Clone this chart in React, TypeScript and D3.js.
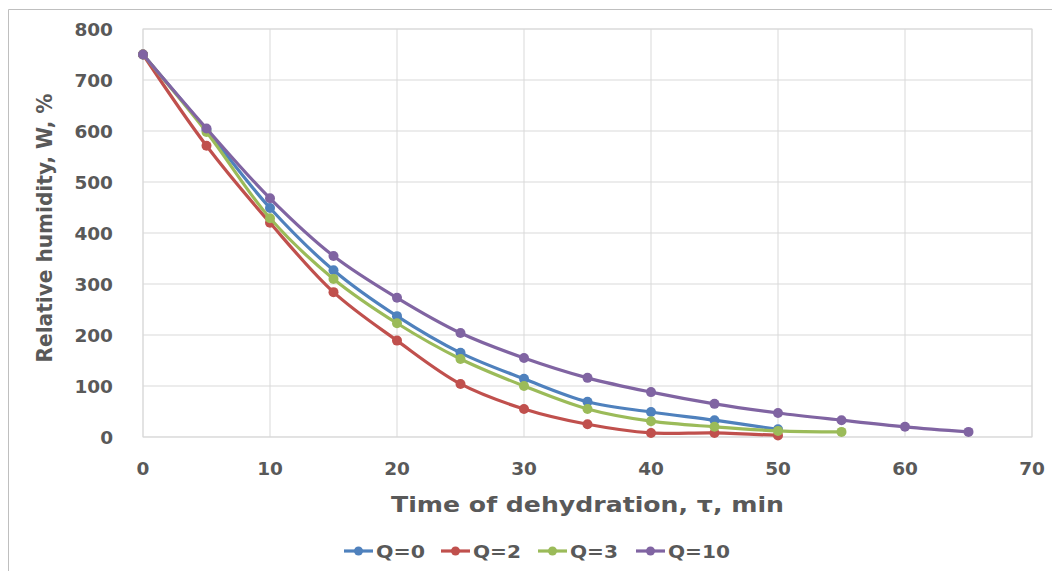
import React from "react";
import * as d3 from "d3";

const times = [0, 5, 10, 15, 20, 25, 30, 35, 40, 45, 50, 55, 60, 65];
const q0 = [750, 602, 449, 327, 237, 165, 114, 69, 49, 33, 15];
const q2 = [750, 571, 420, 284, 189, 104, 55, 25, 8, 8, 3];
const q3 = [750, 598, 429, 310, 223, 153, 100, 55, 31, 20, 12, 10];
const q10 = [750, 605, 468, 355, 273, 204, 155, 116, 88, 65, 47, 33, 20, 10];
const seriesNames = ["Q=0", "Q=2", "Q=3", "Q=10"];
const seriesColors = ["#4F81BD", "#C0504D", "#9BBB59", "#8064A2"];
const xTicks = [0, 10, 20, 30, 40, 50, 60, 70];
const yTicks = [0, 100, 200, 300, 400, 500, 600, 700, 800];

const W = 1052, H = 571;
const left = 143, right = 1032, top = 29, bottom = 437;
const FONT = "'DejaVu Sans', Verdana, sans-serif";
const GRAY = "#595959";

export default function App() {
  const x = d3.scaleLinear().domain([0, 70]).range([left, right]);
  const y = d3.scaleLinear().domain([0, 800]).range([bottom, top]);
  const all = [q0, q2, q3, q10];
  const line = d3
    .line<[number, number]>()
    .x((d) => x(d[0]))
    .y((d) => y(d[1]))
    .curve(d3.curveCatmullRom.alpha(0.5));

  const legendX = [344, 441, 538, 636];
  const legendTextLen = [49, 48, 48, 62];

  return (
    <svg width={W} height={H} style={{ position: "absolute", left: 0, top: 0, background: "#fff" }}>
      <rect x={0} y={0} width={W} height={H} fill="#fff" />
      <line x1={8.5} y1={9.5} x2={8.5} y2={H} stroke="#BFBFBF" strokeWidth={1} />
      <line x1={8.5} y1={9.5} x2={W} y2={9.5} stroke="#BFBFBF" strokeWidth={1} />
      {xTicks.map((t) => (
        <line key={"gx" + t} x1={x(t)} x2={x(t)} y1={top} y2={bottom} stroke="#D9D9D9" strokeWidth={1} />
      ))}
      {yTicks.map((t) => (
        <line key={"gy" + t} x1={left} x2={right} y1={y(t)} y2={y(t)} stroke="#D9D9D9" strokeWidth={1} />
      ))}
      <rect x={left} y={top} width={right - left} height={bottom - top} fill="none" stroke="#D9D9D9" strokeWidth={1} />
      {yTicks.map((t) => (
        <text key={"ty" + t} x={113} y={y(t)} dy="0.36em" textAnchor="end" fontFamily={FONT} fontWeight="bold" fontSize={18.5} fill={GRAY}>
          {t}
        </text>
      ))}
      {xTicks.map((t) => (
        <text key={"tx" + t} x={x(t)} y={475} textAnchor="middle" fontFamily={FONT} fontWeight="bold" fontSize={18.5} fill={GRAY}>
          {t}
        </text>
      ))}
      <text x={(left + right) / 2} y={512} textAnchor="middle" fontFamily={FONT} fontWeight="bold" fontSize={21} fill={GRAY} textLength={393} lengthAdjust="spacingAndGlyphs">
        Time of dehydration, τ, min
      </text>
      <text transform={`translate(52, 228) rotate(-90)`} textAnchor="middle" fontFamily={FONT} fontWeight="bold" fontSize={20.5} fill={GRAY} textLength={269} lengthAdjust="spacingAndGlyphs">
        Relative humidity, W, %
      </text>
      {all.map((vals, i) => {
        const pts: [number, number][] = vals.map((v, j) => [times[j], v]);
        return (
          <g key={"s" + i}>
            <path d={line(pts) || ""} fill="none" stroke={seriesColors[i]} strokeWidth={3.2} strokeLinejoin="round" />
            {pts.map((p, j) => (
              <circle key={j} cx={x(p[0])} cy={y(p[1])} r={5} fill={seriesColors[i]} />
            ))}
          </g>
        );
      })}
      {seriesNames.map((n, i) => (
        <g key={"l" + i}>
          <line x1={legendX[i]} x2={legendX[i] + 29} y1={551} y2={551} stroke={seriesColors[i]} strokeWidth={3.2} />
          <circle cx={legendX[i] + 14.5} cy={551} r={4.5} fill={seriesColors[i]} />
          <text x={legendX[i] + 32} y={551} dy="0.36em" fontFamily={FONT} fontWeight="bold" fontSize={18.5} fill={GRAY} textLength={legendTextLen[i]} lengthAdjust="spacingAndGlyphs">
            {n}
          </text>
        </g>
      ))}
    </svg>
  );
}
